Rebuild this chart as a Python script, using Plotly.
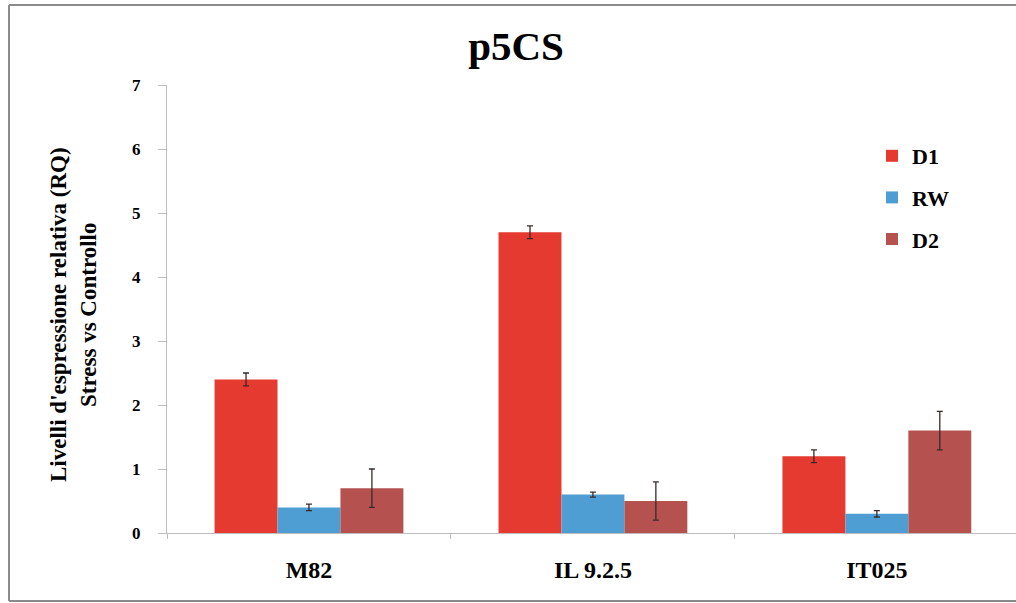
import plotly.graph_objects as go

categories = ["M82", "IL 9.2.5", "IT025"]
series_names = ["D1", "RW", "D2"]
d1_values = [2.4, 4.7, 1.2]
d1_errors = [0.1, 0.1, 0.1]
rw_values = [0.4, 0.6, 0.3]
rw_errors = [0.05, 0.04, 0.05]
d2_values = [0.7, 0.5, 1.6]
d2_errors = [0.3, 0.3, 0.3]
y_ticks = [0, 1, 2, 3, 4, 5, 6, 7]

colors = ["#E53A2F", "#4E9ED3", "#B5524F"]
values = [d1_values, rw_values, d2_values]
errors = [d1_errors, rw_errors, d2_errors]

FONT = "Times New Roman, Liberation Serif, DejaVu Serif, serif"

fig = go.Figure()
for name, vals, errs, col in zip(series_names, values, errors, colors):
    fig.add_trace(go.Bar(
        x=categories, y=vals, name="<b>%s</b>" % name, legendgroup=name,
        marker=dict(color=col, line=dict(width=0)),
        error_y=dict(type="data", array=errs, visible=True,
                     color="#3a2a2a", thickness=1.3, width=3),
    ))

def px_x(p):
    return (p - 167) / 849

def px_y(p):
    return (533 - p) / 448

fig.update_layout(
    width=1016, height=603,
    margin=dict(l=167, r=0, t=85, b=70),
    paper_bgcolor="white", plot_bgcolor="white",
    barmode="group", bargap=0.335, bargroupgap=0,
    showlegend=True,
    legend=dict(x=px_x(872), y=px_y(135), xanchor="left", yanchor="top",
                font=dict(family=FONT, size=22, color="black"),
                tracegroupgap=10, bgcolor="rgba(0,0,0,0)",
                itemwidth=30),
    title=dict(text="<b>p5CS</b>", x=px_x(516) * 849 / 1016 + 167 / 1016, xanchor="center",
               y=1 - 46 / 603, yanchor="middle",
               font=dict(family=FONT, size=41, color="black")),
    xaxis=dict(range=[-0.5, 2.49], showline=True, linecolor="#BDBDBD", linewidth=1,
               ticks="outside", tickson="boundaries", ticklen=5, tickcolor="#BDBDBD",
               tickfont=dict(family=FONT, size=24, color="black"),
               ticklabelstandoff=15, showgrid=False, zeroline=False,
               tickvals=categories, ticktext=["<b>%s</b>" % c for c in categories]),
    yaxis=dict(range=[0, 7], tickvals=y_ticks, ticktext=["<b>%d</b>" % t for t in y_ticks],
               showline=True, linecolor="#BDBDBD", linewidth=1,
               ticks="outside", ticklen=8, tickcolor="#BDBDBD",
               tickfont=dict(family=FONT, size=17, color="black"),
               ticklabelstandoff=14,
               showgrid=False, zeroline=False),
    annotations=[dict(
        text="<b>Livelli d'espressione relativa (RQ)<br>Stress vs Controllo</b>",
        xref="paper", yref="paper", x=px_x(73), y=px_y(315),
        xanchor="center", yanchor="middle", textangle=-90, showarrow=False,
        font=dict(family=FONT, size=23, color="black"))],
    shapes=[
        dict(type="line", xref="paper", yref="paper", x0=px_x(9), x1=px_x(9),
             y0=px_y(601), y1=px_y(5), line=dict(color="#8A8A8A", width=2)),
        dict(type="line", xref="paper", yref="paper", x0=px_x(9), x1=px_x(1100),
             y0=px_y(5), y1=px_y(5), line=dict(color="#8A8A8A", width=2)),
        dict(type="line", xref="paper", yref="paper", x0=px_x(9), x1=px_x(1100),
             y0=px_y(601), y1=px_y(601), line=dict(color="#8A8A8A", width=2)),
    ],
)

fig.write_html("out.html")
